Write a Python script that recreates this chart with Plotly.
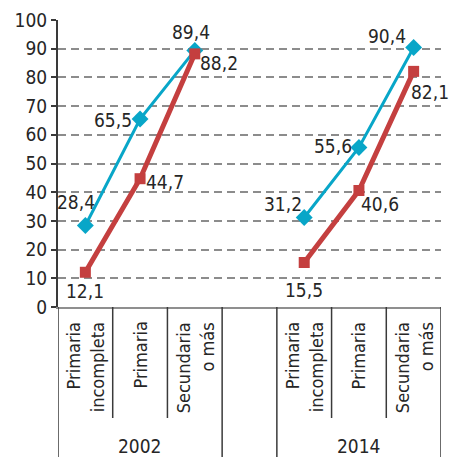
import plotly.graph_objects as go

# Categories (two survey years, three education levels each)
years = ["2002", "2014"]
levels = ["Primaria<br>incompleta", "Primaria", "Secundaria<br>o más"]

# Series values (%)
serie_azul = [28.4, 65.5, 89.4, 31.2, 55.6, 90.4]
serie_roja = [12.1, 44.7, 88.2, 15.5, 40.6, 82.1]

y_ticks = list(range(0, 101, 10))

BLUE = "#08A6C8"
RED = "#C43F3F"
FONT = "Liberation Sans Narrow, DejaVu Sans Condensed, Arial Narrow, sans-serif"
TXT = "#262626"

# x positions: each year is a block of three slots, with one empty slot between blocks
gap = 1
xpos = []
for gi, _ in enumerate(years):
    for li, _ in enumerate(levels):
        xpos.append(gi * (len(levels) + gap) + li)

fig = go.Figure()
for gi in range(len(years)):
    sl = slice(gi * len(levels), (gi + 1) * len(levels))
    fig.add_trace(go.Scatter(
        x=xpos[sl], y=serie_azul[sl], mode="lines+markers",
        line=dict(color=BLUE, width=3),
        marker=dict(symbol="diamond", size=13, color=BLUE),
        showlegend=False, hoverinfo="skip"))
    fig.add_trace(go.Scatter(
        x=xpos[sl], y=serie_roja[sl], mode="lines+markers",
        line=dict(color=RED, width=5),
        marker=dict(symbol="square", size=11, color=RED),
        showlegend=False, hoverinfo="skip"))


def fmt(v):
    return f"{v:.1f}".replace(".", ",")


# Value label offsets (px) per point: (dx, dy) with dy positive = up
off_azul = [(-9, 23), (-27, -1), (-4, 18), (-21, 13), (-26, 1), (-27, 12)]
off_roja = [(0, -19), (25, -3), (24, -9), (0, -27), (21, -14), (16, -21)]

annotations = []
for vals, offs in ((serie_azul, off_azul), (serie_roja, off_roja)):
    for x, v, (dx, dy) in zip(xpos, vals, offs):
        annotations.append(dict(
            x=x, y=v, xref="x", yref="y", text=fmt(v), showarrow=False,
            xshift=dx, yshift=dy, font=dict(size=19, color=TXT, family=FONT)))

# Plot area geometry in pixels, to place the category labels below it
H_PLOT = 287.0
def py(pix_below_axis):
    return -pix_below_axis / H_PLOT

for gi, yr in enumerate(years):
    for li, lv in enumerate(levels):
        annotations.append(dict(
            x=xpos[gi * len(levels) + li], y=py(13), xref="x", yref="paper",
            text=lv, showarrow=False, textangle=-90, align="right",
            xanchor="center", yanchor="top",
            font=dict(size=18, color=TXT, family=FONT)))
    mid = (xpos[gi * len(levels)] + xpos[(gi + 1) * len(levels) - 1]) / 2
    annotations.append(dict(
        x=mid, y=py(139), xref="x", yref="paper", text=yr, showarrow=False,
        xanchor="center", yanchor="middle",
        font=dict(size=19, color=TXT, family=FONT)))

# Divider lines of the two-level category axis
shapes = []
line_col = "#3a3a3a"
for gi in range(len(years)):
    start = xpos[gi * len(levels)] - 0.5
    end = xpos[(gi + 1) * len(levels) - 1] + 0.5
    for xb in (start, end):
        shapes.append(dict(type="line", xref="x", yref="paper", x0=xb, x1=xb,
                           y0=0, y1=py(152), line=dict(color=line_col, width=1.5)))
    for li in range(1, len(levels)):
        xb = xpos[gi * len(levels) + li] - 0.5
        shapes.append(dict(type="line", xref="x", yref="paper", x0=xb, x1=xb,
                           y0=0, y1=py(111), line=dict(color=line_col, width=1.5)))

fig.update_layout(
    width=450, height=457,
    margin=dict(l=58, r=9, t=20, b=150),
    plot_bgcolor="white", paper_bgcolor="white",
    font=dict(family=FONT, color=TXT, size=19),
    annotations=annotations, shapes=shapes,
    xaxis=dict(range=[xpos[0] - 0.5, xpos[-1] + 0.5], showgrid=False,
               zeroline=False, showticklabels=False, ticks="",
               showline=True, linecolor="#8f8f8f", linewidth=2),
    yaxis=dict(range=[0, 100], tickvals=y_ticks, showgrid=True,
               gridcolor="#8c8c8c", gridwidth=1.5, griddash="8px,5px",
               zeroline=False, showline=True, linecolor="#3a3a3a", linewidth=2,
               ticks="outside", ticklen=5, tickwidth=1.5, tickcolor="#3a3a3a",
               tickfont=dict(size=19, color=TXT, family=FONT)),
)

fig.write_html("out.html")
